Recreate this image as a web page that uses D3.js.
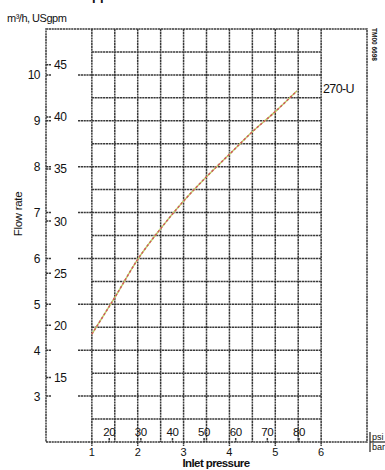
<!DOCTYPE html>
<html>
<head>
<meta charset="utf-8">
<script src="https://cdn.jsdelivr.net/npm/d3@7"></script>
<style>
  body { margin: 0; background: #fff; }
  text { font-family: "Liberation Sans", Arial, sans-serif; fill: #111; }
</style>
</head>
<body>
<div id="chart"></div>
<script>
// curve: inlet pressure (bar) vs flow rate (m3/h)
let pressureBar = [1, 1.5, 2, 2.5, 3, 3.5, 4, 4.5, 5, 5.47];
let flowM3h     = [4.35, 5.15, 5.98, 6.65, 7.25, 7.78, 8.27, 8.76, 9.2, 9.65];

let barTicks  = [1, 2, 3, 4, 5, 6];
let psiTicks  = [20, 30, 40, 50, 60, 70, 80];
let m3hTicks  = [3, 4, 5, 6, 7, 8, 9, 10];
let gpmTicks  = [15, 20, 25, 30, 35, 40, 45];
let curveName = "270-U";

const PSI_TO_BAR = 0.0689476;
const GPM_TO_M3H = 0.227125;

let width = 385, height = 470;

let svg = d3.select("#chart").append("svg")
  .attr("width", width).attr("height", height);

let x = d3.scaleLinear().domain([0, 7]).range([46, 367]);
let y = d3.scaleLinear().domain([2, 11]).range([442, 29]);

function gridLine(sel) {
  return sel.attr("stroke", "#383838")
    .attr("stroke-width", 1.5)
    .attr("stroke-dasharray", "2.2,0.6")
    .attr("fill", "none");
}

// grid: every half bar / half m3/h inside 1..6 bar
let vLines = d3.range(1, 6.01, 0.5);
let hLines = d3.range(2.5, 10.51, 0.5);

svg.append("g").selectAll("line")
  .data(vLines).enter().append("line")
  .attr("x1", d => x(d)).attr("x2", d => x(d))
  .attr("y1", y(11)).attr("y2", y(2))
  .call(gridLine);

svg.append("g").selectAll("line")
  .data(hLines).enter().append("line")
  .attr("x1", d => Number.isInteger(d) ? 78 : x(1))
  .attr("x2", x(6))
  .attr("y1", d => y(d)).attr("y2", d => y(d))
  .call(gridLine);

// frame
svg.append("rect")
  .attr("x", x(0)).attr("y", y(11))
  .attr("width", x(7) - x(0)).attr("height", y(2) - y(11))
  .call(gridLine);

// left axis: m3/h and USgpm
let left = svg.append("g");
left.selectAll("text.m3h")
  .data(m3hTicks).enter().append("text")
  .attr("class", "m3h")
  .attr("x", 40).attr("y", d => y(d) + 4.5)
  .attr("text-anchor", "end")
  .attr("font-size", 12)
  .attr("letter-spacing", -0.5)
  .text(d => d);
left.selectAll("line.m3h")
  .data(m3hTicks).enter().append("line")
  .attr("class", "m3h")
  .attr("x1", 46).attr("x2", 51)
  .attr("y1", d => y(d)).attr("y2", d => y(d))
  .call(gridLine);
left.selectAll("text.gpm")
  .data(gpmTicks).enter().append("text")
  .attr("class", "gpm")
  .attr("x", 54).attr("y", d => y(d * GPM_TO_M3H) + 4.5)
  .attr("font-size", 12)
  .attr("letter-spacing", -0.5)
  .text(d => d);
left.selectAll("line.gpm")
  .data(gpmTicks).enter().append("line")
  .attr("class", "gpm")
  .attr("x1", 46).attr("x2", 51)
  .attr("y1", d => y(d * GPM_TO_M3H)).attr("y2", d => y(d * GPM_TO_M3H))
  .call(gridLine);

// bottom axis: bar below, psi inside last row
let bottom = svg.append("g");
bottom.selectAll("text.bar")
  .data(barTicks).enter().append("text")
  .attr("class", "bar")
  .attr("x", d => x(d)).attr("y", 456)
  .attr("text-anchor", "middle")
  .attr("font-size", 11)
  .text(d => d);
bottom.selectAll("line.bar")
  .data(barTicks).enter().append("line")
  .attr("class", "bar")
  .attr("x1", d => x(d)).attr("x2", d => x(d))
  .attr("y1", 442).attr("y2", 446)
  .call(gridLine);
bottom.selectAll("text.psi")
  .data(psiTicks).enter().append("text")
  .attr("class", "psi")
  .attr("x", d => x(d * PSI_TO_BAR)).attr("y", 436)
  .attr("text-anchor", "middle")
  .attr("font-size", 11.5)
  .attr("letter-spacing", -0.4)
  .text(d => d);
bottom.selectAll("line.psi")
  .data(psiTicks).enter().append("line")
  .attr("class", "psi")
  .attr("x1", d => x(d * PSI_TO_BAR)).attr("x2", d => x(d * PSI_TO_BAR))
  .attr("y1", 438).attr("y2", 442)
  .call(gridLine);

// curve: red / yellow-green dashed look
let pts = pressureBar.map((p, i) => [x(p), y(flowM3h[i])]);
let line = d3.line().curve(d3.curveMonotoneX);
svg.append("path")
  .attr("d", line(pts))
  .attr("fill", "none")
  .attr("stroke", "#bcd46a")
  .attr("stroke-width", 1.5);
svg.append("path")
  .attr("d", line(pts))
  .attr("fill", "none")
  .attr("stroke", "#d05a5a")
  .attr("stroke-width", 1.5)
  .attr("stroke-dasharray", "2.5,2");

svg.append("text")
  .attr("x", 323).attr("y", 93)
  .attr("font-size", 12.5)
  .attr("letter-spacing", -0.6)
  .text(curveName);

// titles and labels
svg.append("text")
  .attr("x", 92).attr("y", 0)
  .attr("font-size", 13).attr("font-weight", "bold")
  .text("pp");
svg.append("text")
  .attr("x", 7).attr("y", 22)
  .attr("font-size", 11)
  .attr("letter-spacing", -0.5)
  .html("m³/h, USgpm");
svg.append("text")
  .attr("transform", "translate(22, 214) rotate(-90)")
  .attr("text-anchor", "middle")
  .attr("font-size", 11.5)
  .attr("letter-spacing", -0.3)
  .text("Flow rate");
svg.append("text")
  .attr("x", 216).attr("y", 467)
  .attr("text-anchor", "middle")
  .attr("font-size", 11.5)
  .attr("font-weight", "bold")
  .attr("letter-spacing", -0.6)
  .text("Inlet pressure");

// unit bracket at bottom right
svg.append("line")
  .attr("x1", 370).attr("x2", 370).attr("y1", 432).attr("y2", 452)
  .attr("stroke", "#222").attr("stroke-width", 1.2);
svg.append("line")
  .attr("x1", 370).attr("x2", 385).attr("y1", 442).attr("y2", 442)
  .attr("stroke", "#222").attr("stroke-width", 1.2);
svg.append("text").attr("x", 372).attr("y", 440).attr("font-size", 9).text("psi");
svg.append("text").attr("x", 372).attr("y", 450).attr("font-size", 9).text("bar");

// drawing number, rotated
svg.append("text")
  .attr("transform", "translate(372, 28) rotate(90)")
  .attr("font-size", 6.5)
  .attr("font-weight", "bold")
  .text("TM00 6698");
</script>
</body>
</html>
